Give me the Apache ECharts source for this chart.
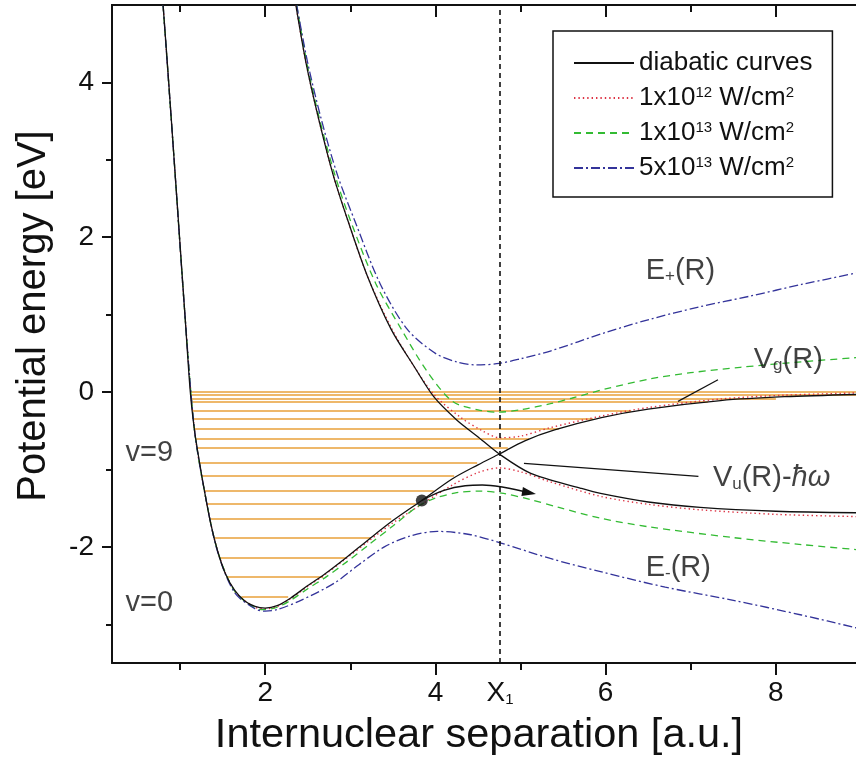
<!DOCTYPE html>
<html>
<head>
<meta charset="utf-8">
<script src="https://cdn.jsdelivr.net/npm/echarts@6/dist/echarts.min.js"></script>
<style>
  html, body { margin: 0; padding: 0; background: #fff; }
  #chart { width: 856px; height: 766px; }
</style>
</head>
<body>
<div id="chart"></div>
<script>
// ---- Diabatic curves (eV vs R in a.u.) ----
const vgR = [0.80, 0.86, 0.93, 1.00, 1.06, 1.12, 1.17, 1.23, 1.29, 1.36, 1.44, 1.53, 1.64, 1.76, 1.88, 2.00, 2.14, 2.30, 2.50, 2.70, 2.95, 3.22, 3.50, 3.84, 4.20, 4.50, 4.75, 5.05, 5.40, 5.95, 6.50, 7.35, 8.10, 9.00];
const vgE = [5.00, 4.10, 3.00, 1.90, 0.95, 0.00, -0.50, -0.92, -1.30, -1.70, -2.05, -2.34, -2.56, -2.70, -2.77, -2.79, -2.76, -2.66, -2.50, -2.35, -2.14, -1.90, -1.66, -1.40, -1.12, -0.94, -0.80, -0.63, -0.49, -0.33, -0.22, -0.11, -0.06, -0.03];

const vuR = [2.36, 2.48, 2.63, 2.80, 2.97, 3.20, 3.48, 3.75, 3.98, 4.25, 4.49, 4.75, 5.12, 5.70, 5.94, 6.50, 7.11, 8.00, 9.00];
const vuE = [5.00, 4.25, 3.52, 2.80, 2.22, 1.50, 0.81, 0.33, -0.06, -0.36, -0.57, -0.80, -1.05, -1.24, -1.31, -1.42, -1.49, -1.54, -1.56];

// ---- Adiabatic curves, 1x10^12 W/cm^2 ----
const red1R = [2.36, 2.48, 2.63, 2.80, 2.97, 3.20, 3.49, 3.75, 3.99, 4.30, 4.55, 4.75, 5.00, 5.35, 5.95, 6.50, 7.35, 8.10, 9.00];
const red1E = [5.00, 4.25, 3.52, 2.80, 2.22, 1.50, 0.81, 0.33, -0.04, -0.33, -0.50, -0.59, -0.57, -0.46, -0.31, -0.20, -0.09, -0.04, -0.01];
const red2R = [0.80, 0.93, 1.06, 1.17, 1.29, 1.44, 1.64, 1.88, 2.00, 2.14, 2.30, 2.50, 2.70, 2.95, 3.22, 3.50, 3.84, 4.20, 4.50, 4.75, 5.00, 5.35, 5.95, 6.50, 7.10, 8.00, 9.00];
const red2E = [5.00, 3.00, 0.95, -0.50, -1.30, -2.05, -2.57, -2.78, -2.80, -2.77, -2.67, -2.51, -2.36, -2.15, -1.92, -1.69, -1.45, -1.20, -1.04, -0.98, -1.03, -1.16, -1.35, -1.45, -1.52, -1.58, -1.61];

// ---- Adiabatic curves, 1x10^13 W/cm^2 ----
const grn1R = [2.37, 2.49, 2.64, 2.82, 3.00, 3.30, 3.60, 3.90, 4.20, 4.50, 4.73, 5.00, 5.35, 5.60, 6.00, 6.52, 7.00, 7.58, 8.30, 9.00];
const grn1E = [5.00, 4.25, 3.52, 2.80, 2.22, 1.40, 0.81, 0.27, -0.12, -0.23, -0.26, -0.23, -0.15, -0.08, 0.04, 0.17, 0.25, 0.32, 0.39, 0.45];
const grn2R = [0.80, 0.93, 1.06, 1.17, 1.29, 1.44, 1.64, 1.88, 2.00, 2.14, 2.30, 2.50, 2.70, 2.95, 3.22, 3.50, 3.79, 4.00, 4.25, 4.53, 4.80, 5.12, 5.45, 5.94, 6.50, 7.50, 8.30, 9.00];
const grn2E = [5.00, 3.00, 0.95, -0.50, -1.30, -2.05, -2.57, -2.79, -2.81, -2.78, -2.69, -2.54, -2.40, -2.20, -1.97, -1.73, -1.48, -1.37, -1.30, -1.28, -1.31, -1.39, -1.49, -1.63, -1.74, -1.88, -1.97, -2.04];

// ---- Adiabatic curves, 5x10^13 W/cm^2 ----
const blu1R = [2.37, 2.50, 2.66, 2.85, 3.05, 3.35, 3.67, 4.00, 4.25, 4.49, 4.75, 5.00, 5.35, 6.00, 6.52, 7.10, 7.70, 8.30, 9.00];
const blu1E = [5.00, 4.25, 3.52, 2.80, 2.22, 1.40, 0.81, 0.50, 0.39, 0.35, 0.37, 0.43, 0.53, 0.77, 0.94, 1.10, 1.24, 1.39, 1.55];
const blu2R = [0.80, 0.93, 1.06, 1.17, 1.29, 1.44, 1.64, 1.88, 2.00, 2.14, 2.40, 2.81, 3.10, 3.40, 3.70, 4.02, 4.40, 4.77, 5.35, 5.94, 6.70, 7.50, 8.30, 9.00];
const blu2E = [5.00, 3.00, 0.95, -0.50, -1.30, -2.06, -2.59, -2.80, -2.83, -2.81, -2.70, -2.47, -2.23, -2.00, -1.86, -1.80, -1.84, -1.95, -2.15, -2.32, -2.52, -2.69, -2.88, -3.06];

// ---- Vibrational levels: energy and classical turning points ----
const levelE     = [0.01, -0.04, -0.09, -0.13, -0.24, -0.35, -0.47, -0.60, -0.72, -0.91, -1.08, -1.27, -1.44, -1.64, -1.88, -2.14, -2.39, -2.65];
const levelLeft  = [1.12, 1.12, 1.13, 1.13, 1.14, 1.16, 1.17, 1.19, 1.20, 1.23, 1.25, 1.28, 1.31, 1.35, 1.40, 1.46, 1.56, 1.72];
const levelRight = [9.00, 9.00, 8.00, 7.20, 6.30, 5.85, 5.45, 5.10, 4.85, 4.49, 4.22, 3.98, 3.77, 3.48, 3.24, 2.95, 2.68, 2.27];

// ---- Wave-packet path (dot and arrow) ----
const pathR = [3.84, 4.10, 4.35, 4.55, 4.80, 5.10];
const pathE = [-1.40, -1.27, -1.21, -1.20, -1.23, -1.30];

// ---- Crossing point and label leaders ----
const crossX = 4.76;
const vgLeadR = [6.85, 7.32];
const vgLeadE = [-0.12, 0.16];
const vuLeadR = [5.04, 7.09];
const vuLeadE = [-0.92, -1.09];

// ---- Axis ticks ----
const xMajor = [2, 4, 6, 8];
const xMinor = [1, 3, 5, 7];
const yMajor = [-2, 0, 2, 4];
const yMinor = [-3, -1, 1, 3];

// ---- Legend entries ----
const legendNames = ['diabatic curves', '1x10^12 W/cm^2', '1x10^13 W/cm^2', '5x10^13 W/cm^2'];
const legendRich = {
  'diabatic curves': 'diabatic curves',
  '1x10^12 W/cm^2': '1x10{sup|12} W/cm{sup|2}',
  '1x10^13 W/cm^2': '1x10{sup|13} W/cm{sup|2}',
  '5x10^13 W/cm^2': '5x10{sup|13} W/cm{sup|2}'
};

// ---- Text annotations ----
const notes = [
  { at: [6.47, 1.57],  text: 'E{sub|+}(R)' },
  { at: [7.74, 0.42],  text: 'V{sub|g}(R)' },
  { at: [7.26, -1.11], text: 'V{sub|u}(R)-{it|ħω}' },
  { at: [6.47, -2.27], text: 'E{sub|-}(R)' },
  { at: [0.36, -0.79], text: 'v=9' },
  { at: [0.36, -2.73], text: 'v=0' }
];

const FONT = '"Liberation Sans", Arial, Helvetica, sans-serif';
const X_MIN = 0.2, X_MAX = 9.0, Y_MIN = -3.5, Y_MAX = 5.0;

const zip = (xs, ys) => xs.map((x, i) => [x, ys[i]]);

function curve(name, xs, ys, color, type, width, z) {
  return {
    type: 'line', name, data: zip(xs, ys),
    symbol: 'none', showSymbol: false,
    smooth: 0.3,
    lineStyle: { color, type, width },
    itemStyle: { color },
    z, silent: true, animation: false
  };
}

const RED = '#dd3344', GREEN = '#33bb33', BLUE = '#33339a', BLACK = '#111111', ORANGE = '#e9a03a';
const DOT = [1.4, 3], DASH = [7, 5], DASHDOT = [9, 3, 2, 3];

const levelLines = levelE.map((e, i) => ({ coords: [[levelLeft[i], e], [levelRight[i], e]] }));

const pathData = zip(pathR, pathE).map((p, i) =>
  i === pathR.length - 1
    ? { value: p, symbol: 'triangle', symbolSize: [9, 14], symbolRotate: -100 }
    : { value: p, symbol: 'none' });

const series = [
  {
    type: 'lines', coordinateSystem: 'cartesian2d', data: levelLines,
    lineStyle: { color: ORANGE, width: 1.6, opacity: 1 }, z: 1, silent: true, animation: false
  },
  curve('1x10^12 W/cm^2', red1R, red1E, RED, DOT, 1.4, 2),
  curve('1x10^12 W/cm^2', red2R, red2E, RED, DOT, 1.4, 2),
  curve('1x10^13 W/cm^2', grn1R, grn1E, GREEN, DASH, 1.3, 3),
  curve('1x10^13 W/cm^2', grn2R, grn2E, GREEN, DASH, 1.3, 3),
  curve('5x10^13 W/cm^2', blu1R, blu1E, BLUE, DASHDOT, 1.3, 4),
  curve('5x10^13 W/cm^2', blu2R, blu2E, BLUE, DASHDOT, 1.3, 4),
  Object.assign(curve('diabatic curves', vgR, vgE, BLACK, 'solid', 1.3, 5), {
    markLine: {
      silent: true, symbol: 'none', animation: false,
      label: { show: false },
      lineStyle: { color: BLACK, type: [5, 4], width: 1.6 },
      data: [{ xAxis: crossX }]
    }
  }),
  curve('diabatic curves', vuR, vuE, BLACK, 'solid', 1.3, 5),
  {
    type: 'line', data: pathData, showSymbol: true, symbol: 'none',
    smooth: 0.4, lineStyle: { color: BLACK, width: 1.5 },
    itemStyle: { color: BLACK }, z: 6, silent: true, animation: false
  },
  {
    type: 'scatter', data: [[pathR[0], pathE[0]]], symbol: 'circle', symbolSize: 12,
    itemStyle: { color: BLACK }, z: 7, silent: true, animation: false
  },
  {
    type: 'line', data: zip(vgLeadR, vgLeadE), symbol: 'none',
    lineStyle: { color: BLACK, width: 1.2 }, z: 6, silent: true, animation: false
  },
  {
    type: 'line', data: zip(vuLeadR, vuLeadE), symbol: 'none',
    lineStyle: { color: BLACK, width: 1.2 }, z: 6, silent: true, animation: false
  },
  {
    type: 'scatter', symbolSize: 0, z: 8, silent: true, animation: false,
    data: notes.map(n => ({ value: n.at, text: n.text })),
    label: {
      show: true, position: 'right', distance: 0,
      formatter: p => p.data.text,
      fontFamily: FONT, fontSize: 29, color: BLACK,
      rich: {
        sub: { fontFamily: FONT, fontSize: 17, verticalAlign: 'bottom', color: BLACK },
        it: { fontFamily: FONT, fontSize: 29, fontStyle: 'italic', color: BLACK }
      }
    }
  }
];

const axisLineStyle = { show: true, onZero: false, lineStyle: { color: BLACK, width: 2 } };
const noLine = { show: false, onZero: false };
const hidden = { show: false };

function xAxisDef(position, ticks, len, inside, labels) {
  return {
    type: 'value', position, min: X_MIN, max: X_MAX,
    axisLine: labels || inside ? axisLineStyle : noLine,
    splitLine: hidden,
    axisTick: { show: true, customValues: ticks, length: len, inside, lineStyle: { color: BLACK, width: 2 } },
    axisLabel: labels || hidden
  };
}
function yAxisDef(ticks, len, labels) {
  return {
    type: 'value', position: 'left', min: Y_MIN, max: Y_MAX,
    axisLine: labels ? axisLineStyle : noLine,
    splitLine: hidden,
    axisTick: { show: true, customValues: ticks, length: len, lineStyle: { color: BLACK, width: 2 } },
    axisLabel: labels || hidden
  };
}

const option = {
  backgroundColor: '#ffffff',
  animation: false,
  grid: { left: 112, top: 5, right: -5, bottom: 103, outerBoundsMode: 'none', containLabel: false },
  xAxis: [
    xAxisDef('bottom', xMajor, 12, false, {
      show: true, customValues: xMajor.concat([crossX]), margin: 16,
      fontFamily: FONT, fontSize: 28, color: BLACK,
      formatter: v => (Math.abs(v - crossX) < 1e-6 ? 'X{sub|1}' : String(v)),
      rich: { sub: { fontFamily: FONT, fontSize: 15, verticalAlign: 'bottom', color: BLACK } }
    }),
    xAxisDef('bottom', xMinor, 7, false, null),
    xAxisDef('top', xMajor, 12, true, null),
    xAxisDef('top', xMinor, 7, true, null)
  ],
  yAxis: [
    yAxisDef(yMajor, 10, {
      show: true, customValues: yMajor, margin: 18,
      fontFamily: FONT, fontSize: 28, color: BLACK
    }),
    yAxisDef(yMinor, 6, null)
  ],
  legend: {
    data: legendNames,
    orient: 'vertical', left: 553, top: 31,
    padding: [19, 20, 16, 20], itemGap: 9,
    itemWidth: 60, itemHeight: 16,
    borderColor: BLACK, borderWidth: 1.5, backgroundColor: '#fff',
    selectedMode: false,
    itemStyle: { opacity: 0, color: 'rgba(0,0,0,0)', borderWidth: 0 },
    lineStyle: { opacity: 1 },
    formatter: n => legendRich[n],
    textStyle: {
      fontFamily: FONT, fontSize: 26, color: BLACK,
      rich: { sup: { fontFamily: FONT, fontSize: 15, verticalAlign: 'top', color: BLACK } }
    }
  },
  graphic: [
    {
      type: 'text', x: 479, y: 736, silent: true,
      style: { text: 'Internuclear separation [a.u.]', font: '41.5px ' + FONT, fill: BLACK,
               textAlign: 'center', textVerticalAlign: 'middle', align: 'center', verticalAlign: 'middle' }
    },
    {
      type: 'text', x: 34, y: 316, rotation: Math.PI / 2, silent: true,
      style: { text: 'Potential energy [eV]', font: '40px ' + FONT, fill: BLACK,
               textAlign: 'center', textVerticalAlign: 'middle', align: 'center', verticalAlign: 'middle' }
    }
  ],
  series
};

const chart = echarts.init(document.getElementById('chart'), null, { renderer: 'canvas' });
chart.setOption(option);
</script>
</body>
</html>
